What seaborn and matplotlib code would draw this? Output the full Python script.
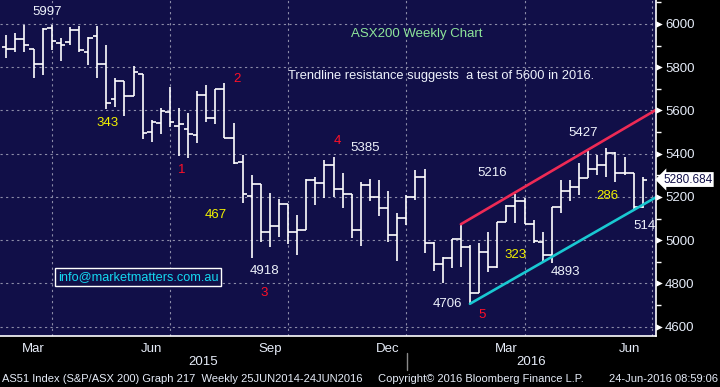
import pandas as pd
import numpy as np
import matplotlib
matplotlib.use("Agg")
import matplotlib.pyplot as plt
import matplotlib.transforms as mtrans
from matplotlib.lines import Line2D
import seaborn as sns

# weekly bars, week ending Friday
week_end = pd.date_range(end="2016-06-24", periods=71, freq="W-FRI")

opens = [5892, 5883, 5929, 5883, 5814, 5980, 5911, 5915, 5971, 5869,
         5943, 5814, 5652, 5735, 5667, 5767, 5499, 5541, 5592, 5527,
         5513, 5485, 5672, 5564, 5698, 5471, 5360, 5203, 5260, 5037,
         5064, 5166, 5037, 5047, 5277, 5265, 5348, 5235, 5212, 5047,
         5254, 5199, 5148, 5023, 5101, 5201, 5291, 4986, 4890, 4916,
         5004, 4970, 4757, 4947, 4878, 5086, 5160, 5181, 5074, 4993,
         4932, 5152, 5229, 5248, 5286, 5328, 5348, 5405, 5312, 5309,
         5155]
highs = [5949, 5957, 5995, 5883, 5980, 5997, 5934, 5985, 5990, 5938,
         5991, 5903, 5749, 5735, 5806, 5767, 5556, 5610, 5707, 5610,
         5587, 5690, 5718, 5698, 5727, 5541, 5394, 5302, 5260, 5220,
         5191, 5166, 5117, 5283, 5294, 5371, 5385, 5312, 5214, 5271,
         5283, 5279, 5228, 5124, 5209, 5325, 5329, 4990, 4921, 5004,
         5070, 4978, 4986, 5038, 5086, 5163, 5216, 5194, 5093, 5039,
         5155, 5279, 5279, 5356, 5414, 5394, 5427, 5409, 5386, 5309,
         5294]
lows = [5844, 5872, 5872, 5752, 5764, 5880, 5830, 5903, 5872, 5810,
        5752, 5607, 5618, 5576, 5667, 5470, 5456, 5493, 5525, 5391,
        5382, 5451, 5548, 5536, 5471, 5351, 5171, 4918, 4993, 4970,
        5016, 4983, 4930, 5047, 5163, 5194, 5201, 5150, 5009, 4975,
        5183, 5113, 4993, 4905, 5070, 5186, 4940, 4859, 4801, 4870,
        4875, 4706, 4757, 4853, 4870, 5086, 5078, 5074, 4986, 4905,
        4893, 5124, 5183, 5209, 5286, 5302, 5294, 5271, 5302, 5143,
        5150]
closes = [5883, 5929, 5901, 5814, 5975, 5921, 5901, 5971, 5878, 5934,
          5814, 5633, 5735, 5667, 5777, 5494, 5547, 5598, 5545, 5536,
          5490, 5672, 5564, 5698, 5471, 5356, 5212, 5260, 5037, 5064,
          5166, 5037, 5047, 5277, 5265, 5348, 5235, 5212, 5047, 5254,
          5199, 5148, 5023, 5101, 5201, 5291, 4986, 4889, 4916, 5004,
          4970, 4757, 4947, 4875, 5086, 5160, 5181, 5074, 4996, 4932,
          5152, 5229, 5248, 5286, 5328, 5348, 5405, 5312, 5309, 5155,
          5280.684]

# trendlines
resist_x = pd.to_datetime(["2016-02-05", "2016-07-04"])
resist_y = [5074, 5602]
support_x = pd.to_datetime(["2016-02-12", "2016-07-04"])
support_y = [4706, 5198]

# month boundaries (last bar of each month) and quarter labels
month_edges = pd.to_datetime(["2015-02-27", "2015-03-27", "2015-04-24", "2015-05-29",
                              "2015-06-26", "2015-07-31", "2015-08-28", "2015-09-25",
                              "2015-10-30", "2015-11-27", "2015-12-25", "2016-01-29",
                              "2016-02-26", "2016-03-25", "2016-04-29", "2016-05-27",
                              "2016-07-01"])
quarter_labels = ["Mar", "Jun", "Sep", "Dec", "Mar", "Jun"]
label_idx = [0, 3, 6, 9, 12, 15]
grid_idx = [1, 4, 7, 10, 13, 16]

# annotations: text, colour, pixel centre
notes = [("5997", "w", 47, 12), ("343", "y", 108, 123), ("1", "r", 182, 170),
         ("2", "r", 237, 79), ("467", "y", 216, 215), ("4918", "w", 265, 271),
         ("3", "r", 264, 293), ("4", "r", 337, 141), ("5385", "w", 365, 148),
         ("5216", "w", 492, 173), ("4706", "w", 447, 304), ("5", "r", 482, 315),
         ("323", "y", 516, 255), ("4893", "w", 565, 272), ("5427", "w", 583, 133),
         ("286", "y", 607, 196)]

NAVY = "#110f48"
TXT = "#e6ecf8"
note_colors = {"w": "#eef2fb", "y": "#f2f200", "r": "#ff1028"}

sns.set_style("dark", {"axes.facecolor": NAVY, "figure.facecolor": "black"})
plt.rcParams["font.family"] = ["Liberation Sans", "DejaVu Sans"]

W, H = 720, 387
AW, AH = 656, 336
fig = plt.figure(figsize=(W / 100, H / 100), dpi=100, facecolor="black")
ax = fig.add_axes([0, 1 - AH / H, AW / W, AH / H])
ax.set_facecolor(NAVY)

half = pd.Timedelta(days=3.5)
ax.vlines(week_end, lows, highs, color="white", lw=1.2)
ax.hlines(opens, week_end - half, week_end, color="white", lw=1.2)
ax.hlines(closes, week_end, week_end + half, color="white", lw=1.2)

sns.lineplot(x=resist_x, y=resist_y, color="#ee2a55", lw=1.9, ax=ax)
sns.lineplot(x=support_x, y=support_y, color="#19c8d2", lw=1.9, ax=ax)

ax.set_xlim(week_end[0] - pd.Timedelta(days=4.85), week_end[-1] + pd.Timedelta(days=10.24))
ax.set_ylim(4557, 6111)
ax.set_xlabel("")
ax.set_ylabel("")

# grid
ax.grid(False)
for v in range(4600, 6001, 200):
    ax.axhline(v, color="#8c8ca8", ls=(0, (2, 3)), lw=0.8, zorder=0)
for i in grid_idx:
    ax.axvline(month_edges[i], color="#8c8ca8", ls=(0, (2, 3)), lw=0.8, zorder=0)

# y axis on right
ax.yaxis.tick_right()
ax.set_yticks(range(4600, 6001, 200))
ax.set_yticks(range(4600, 6101, 100), minor=True)
ax.tick_params(axis="y", which="major", length=0, pad=6.5, labelsize=9.5, colors=TXT)
ax.tick_params(axis="y", which="minor", length=3.5, width=1, color="white", direction="out")
tri = mtrans.blended_transform_factory(ax.transAxes, ax.transData)
yt = list(range(4600, 6001, 200))
ax.scatter([1.0053] * len(yt), yt, transform=tri, marker=">", s=22, color="white",
           clip_on=False, zorder=5, linewidths=0)

# x axis
mids = [month_edges[i] + (month_edges[i + 1] - month_edges[i]) / 2 for i in label_idx]
ax.set_xticks(mids)
ax.set_xticklabels(quarter_labels)
ax.set_xticks(month_edges, minor=True)
ax.tick_params(axis="x", which="major", length=0, pad=5, labelsize=9.5, colors=TXT)
ax.tick_params(axis="x", which="minor", length=3, width=1, color="white", direction="out")

for s in ["left", "top"]:
    ax.spines[s].set_visible(False)
for s in ["right", "bottom"]:
    ax.spines[s].set_color("white")
    ax.spines[s].set_linewidth(1.2)

def axpos(px, py):
    return px / AW, 1 - py / AH

for txt, c, px, py in notes:
    x, y = axpos(px, py)
    ax.text(x, y, txt, color=note_colors[c], fontsize=9.5, ha="center", va="center",
            transform=ax.transAxes)
x, y = axpos(633, 226)
ax.text(x, y, "5144", color=note_colors["w"], fontsize=9.5, ha="left", va="center",
        transform=ax.transAxes, clip_on=True)

x, y = axpos(351, 34)
ax.text(x, y, "ASX200 Weekly Chart", color="#8ee59a", fontsize=9.5, ha="left",
        va="center", transform=ax.transAxes)
x, y = axpos(288, 76)
ax.text(x, y, "Trendline resistance suggests  a test of 5600 in 2016.", color="#eef2fb",
        fontsize=9.3, ha="left", va="center", transform=ax.transAxes)
x, y = axpos(138, 277)
ax.text(x, y, "info@marketmatters.com.au", color="#14d8f0", fontsize=9.2, ha="center",
        va="center", transform=ax.transAxes,
        bbox=dict(boxstyle="square,pad=0.2", fc=NAVY, ec="white", lw=1))

# last price tag
ax.text(1.0 + 7 / AW, closes[-1], f"{closes[-1]:.3f}", transform=tri, color=NAVY,
        fontsize=8.5, ha="left", va="center", clip_on=False,
        bbox=dict(boxstyle="larrow,pad=0.12", fc="white", ec="none"))

# years and footer
def fpos(px, py):
    return px / W, 1 - py / H

for yr, px in [("2015", 203), ("2016", 531)]:
    fig.text(*fpos(px, 362), yr, color=TXT, fontsize=9.5, ha="center", va="center")
fig.add_artist(Line2D([406.7 / W] * 2, [1 - 353 / H, 1 - 370 / H], color="#8a8a8a", lw=1))

fig.text(*fpos(2, 379), "AS51 Index (S&P/ASX 200) Graph 217  Weekly 25JUN2014-24JUN2016",
         color=TXT, fontsize=8.0, ha="left", va="center")
fig.text(*fpos(378, 379), "Copyright\u00a9 2016 Bloomberg Finance L.P.", color=TXT,
         fontsize=8.0, ha="left", va="center")
fig.text(*fpos(718, 379), "24-Jun-2016 08:59:06", color=TXT, fontsize=8.0,
         ha="right", va="center")

fig.savefig("out.png", dpi=100, facecolor="black")
